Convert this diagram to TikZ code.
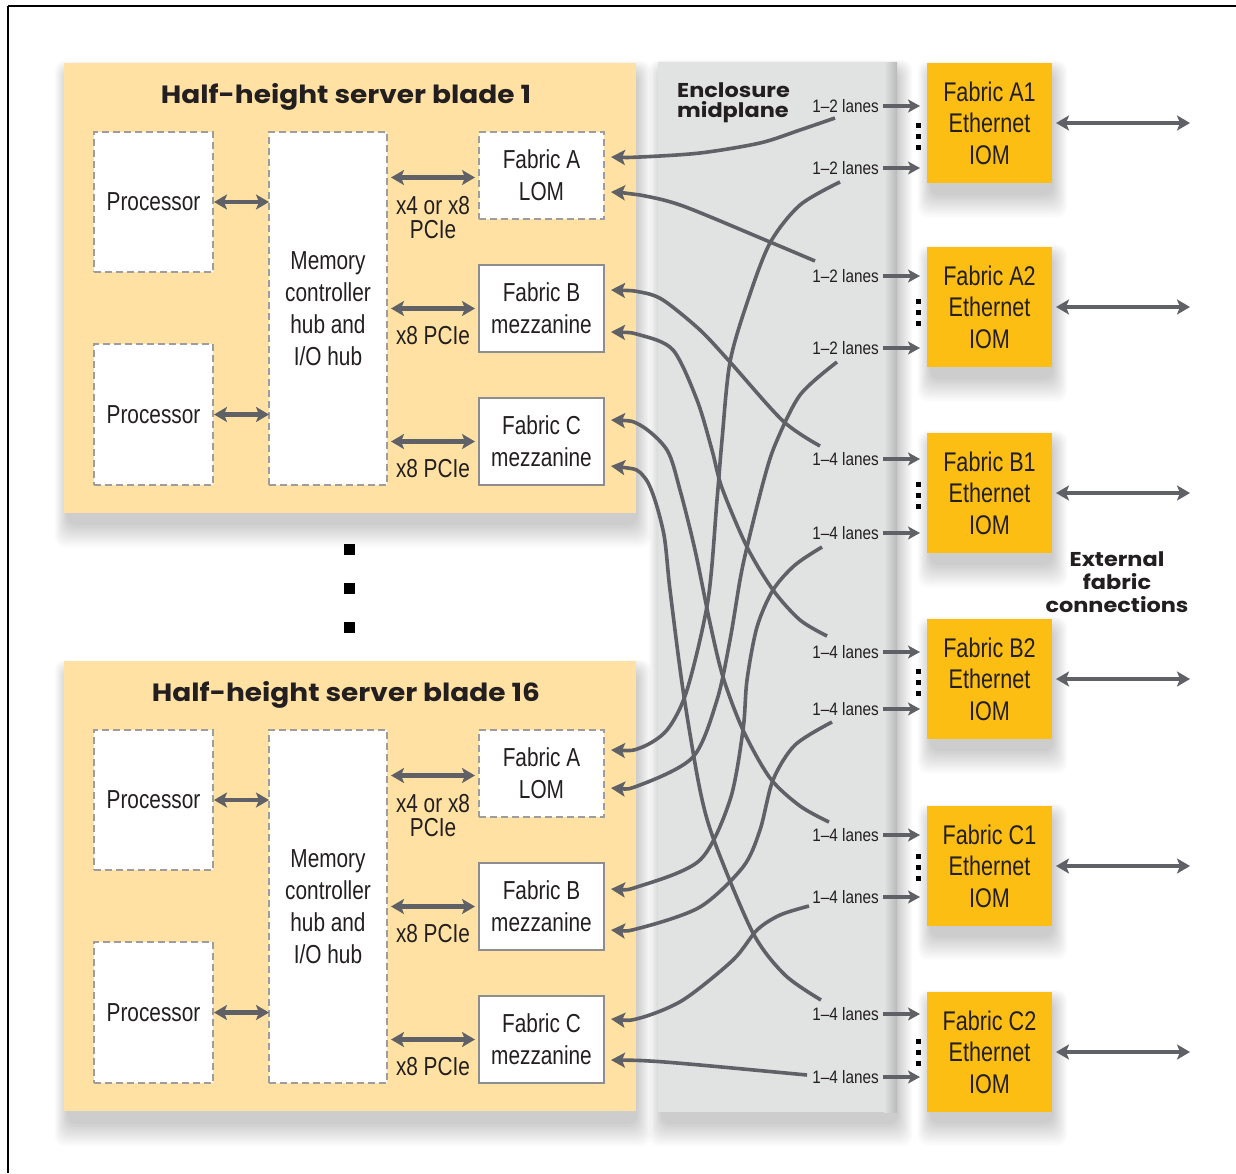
\documentclass[tikz,border=0pt]{standalone}
\usepackage{fontspec}
\setmainfont{Liberation Sans}
\newfontfamily\cond[FakeStretch=0.80]{Liberation Sans}
\newfontfamily\lanef[FakeStretch=0.85]{Liberation Sans}
\newfontfamily\headf[FakeStretch=1.12]{Poppins}
\usetikzlibrary{arrows.meta,calc}
\definecolor{bladec}{HTML}{FFE2A3}
\definecolor{midc}{HTML}{E1E2E2}
\definecolor{iomc}{HTML}{FDBE14}
\definecolor{arrc}{HTML}{5F6167}
\definecolor{dashc}{HTML}{9D9D9D}
\definecolor{txtc}{HTML}{231F20}
\tikzset{
  bladebox/.style={fill=bladec, draw=none, inner sep=0, outer sep=0, anchor=north west},
  dbox/.style={fill=white, draw=dashc, dash pattern=on 7pt off 4pt, line width=1.6pt, inner sep=0, outer sep=0, anchor=north west, font=\cond\fontsize{26}{32}\selectfont, text=txtc, align=center},
  sbox/.style={dbox, solid, draw=dashc!90!black},
  iom/.style={fill=iomc, inner sep=0, outer sep=0, anchor=north west, minimum width=125, minimum height=120, font=\cond\fontsize{27}{31.5}\selectfont, align=center, text=txtc},
  btitle/.style={font=\headf\bfseries\fontsize{25}{25}\selectfont, text=txtc, inner sep=0},
  pcie/.style={font=\cond\fontsize{26}{24}\selectfont, align=center, text=txtc, inner sep=0},
  lane/.style={font=\lanef\fontsize{18}{18}\selectfont, text=txtc, inner sep=1pt, anchor=east},
  dbl/.style={draw=arrc, line width=4.5pt, {Stealth[length=13pt,width=15pt,inset=3pt]}-{Stealth[length=13pt,width=15pt,inset=3pt]}},
  carr/.style={draw=arrc, line width=3.6pt, {Stealth[length=14pt,width=15pt,inset=3pt]}-},
  sarr/.style={draw=arrc, line width=3.3pt, -{Stealth[length=12pt,width=13pt,inset=3pt]}, shorten >=7pt, shorten <=3pt},
}
\newcommand{\softshadow}[4]{%
  \foreach \k in {1,...,10}{%
    \fill[black, opacity=0.02, rounded corners=10pt] ({#1+4-\k*1.3},{#2+10-\k*1.2}) rectangle ({#3+\k*1.5},{#4+10+\k*2.4});
  }%
}
\newcommand{\bladebody}[2]{%
  \node[bladebox, minimum width=572, minimum height=450] (bl#1) at (64,63) {};
  \node[btitle] (ti#1) at (346,97) {Half-height server blade #2};
  \node[dbox, minimum width=119, minimum height=140] (pa#1) at (94,132) {Processor};
  \node[dbox, minimum width=119, minimum height=141] (pb#1) at (94,344) {Processor};
  \node[dbox, minimum width=118, minimum height=353] (mc#1) at (269,132) {Memory\\controller\\hub and\\I/O hub};
  \node[dbox, minimum width=125, minimum height=87] (fa#1) at (479,132) {Fabric A\\LOM};
  \node[sbox, minimum width=125, minimum height=87] (fb#1) at (479,265) {Fabric B\\mezzanine};
  \node[sbox, minimum width=125, minimum height=87] (fc#1) at (479,398) {Fabric C\\mezzanine};
  \draw[dbl, shorten <=1pt] (pa#1.east) -- (pa#1.east -| mc#1.west);
  \draw[dbl, shorten <=1pt] (pb#1.east) -- (pb#1.east -| mc#1.west);
  \draw[dbl, shorten <=4pt, shorten >=4pt] ([yshift=-2pt]fa#1.west -| mc#1.east) -- ([yshift=-2pt]fa#1.west);
  \draw[dbl, shorten <=4pt, shorten >=4pt] (fb#1.west -| mc#1.east) -- (fb#1.west);
  \draw[dbl, shorten <=4pt, shorten >=4pt] (fc#1.west -| mc#1.east) -- (fc#1.west);
  \node[pcie] (xa#1) at (433,218) {x4 or x8\\PCIe};
  \node[pcie] (xb#1) at (433,336) {x8 PCIe};
  \node[pcie] (xc#1) at (433,469) {x8 PCIe};
}
\begin{document}
\begin{tikzpicture}[x=1pt,y=-1pt]
\useasboundingbox (0,0) rectangle (1236,1173);
\fill[white] (0,0) rectangle (1236,1173);
% frame
\draw[line width=2.6pt] (8,6) -- (1236,6);
\draw[line width=1.5pt] (8,6) -- (8,1173);
% shadows
\softshadow{64}{63}{636}{513}
\softshadow{64}{662}{636}{1112}
\softshadow{658}{62}{897}{1112}
\softshadow{927}{63}{1052}{183}
\softshadow{927}{247}{1052}{367}
\softshadow{927}{433}{1052}{553}
\softshadow{927}{619}{1052}{739}
\softshadow{927}{806}{1052}{925}
\softshadow{927}{992}{1052}{1111}
% midplane
\node[fill=midc, anchor=north west, minimum width=239, minimum height=1050, inner sep=0, outer sep=0] (mid) at (658,62) {};
\shade[left color=midc, right color=midc!82!black] (884,62) rectangle (897,1112);
\node[font=\headf\bfseries\fontsize{20}{20}\selectfont, align=left, anchor=west, text=txtc, inner sep=0] (encl) at (677,103) {Enclosure\\midplane};
% blades
\bladebody{1}{1}
\begin{scope}[yshift=-598pt]
\bladebody{16}{16}
\end{scope}
% dots between blades
\foreach \yy in {549,588,627}{\fill[black] (343.5,\yy-5.5) rectangle +(11,11);}
% IOMs
\node[iom] (a1) at (927,63) {Fabric A1\\Ethernet\\IOM};
\node[iom] (a2) at (927,247) {Fabric A2\\Ethernet\\IOM};
\node[iom] (b1) at (927,433) {Fabric B1\\Ethernet\\IOM};
\node[iom] (b2) at (927,619) {Fabric B2\\Ethernet\\IOM};
\node[iom] (c1) at (927,806) {Fabric C1\\Ethernet\\IOM};
\node[iom] (c2) at (927,992) {Fabric C2\\Ethernet\\IOM};
% external arrows
\coordinate (extx) at (1190,0);
\foreach \n in {a1,a2,b1,b2,c1,c2}{\draw[dbl, line width=4pt, shorten <=4pt] (\n.east) -- (\n.east -| extx);}
\node[font=\headf\bfseries\fontsize{20}{23}\selectfont, align=center, text=txtc, inner sep=0] (extl) at (1117,582) {External\\fabric\\connections};
% lane labels
\node[lane] (la1t) at (880,106) {1–2 lanes};
\node[lane] (la1b) at (880,168) {1–2 lanes};
\node[lane] (la2t) at (880,276) {1–2 lanes};
\node[lane] (la2b) at (880,348) {1–2 lanes};
\node[lane] (lb1t) at (880,459) {1–4 lanes};
\node[lane] (lb1b) at (880,533) {1–4 lanes};
\node[lane] (lb2t) at (880,652) {1–4 lanes};
\node[lane] (lb2b) at (880,709) {1–4 lanes};
\node[lane] (lc1t) at (880,835) {1–4 lanes};
\node[lane] (lc1b) at (880,897) {1–4 lanes};
\node[lane] (lc2t) at (880,1014) {1–4 lanes};
\node[lane] (lc2b) at (880,1077) {1–4 lanes};
\foreach \l/\n in {la1t/a1,la1b/a1,la2t/a2,la2b/a2,lb1t/b1,lb1b/b1,lb2t/b2,lb2b/b2,lc1t/c1,lc1b/c1,lc2t/c2,lc2b/c2}{
  \draw[sarr] (\l.east) -- (\l.east -| \n.west);
}
% vertical dots at IOMs
\foreach \yy in {136,312,495,682,867,1052}{
  \foreach \d in {-11,0,11}{\fill[black] (915.5,\yy+\d-2.5) rectangle +(5,5);}
}
% curve end coordinates
\coordinate (e1) at (835,118);
\coordinate (e2) at (815,261);
\coordinate (e3) at (820,446);
\coordinate (e4) at (827,636);
\coordinate (e5) at (829,822);
\coordinate (e6) at (821,1000);
\coordinate (e7) at (840,182);
\coordinate (e8) at (837,362);
\coordinate (e9) at (822,547);
\coordinate (e10) at (832,722);
\coordinate (e11) at (809,906);
\coordinate (e12) at (807,1075);
% curves
\draw[carr] plot[smooth] coordinates {(611,157) (640,157) (700,153) (760,143) (800,130) (e1)};
\draw[carr] plot[smooth] coordinates {(611,192) (640,195) (683,206) (770,242) (e2)};
\draw[carr] plot[smooth] coordinates {(611,290) (640,292) (663,300) (700,330) (730,362) (783,421) (e3)};
\draw[carr] plot[smooth] coordinates {(611,332) (640,335) (673,350) (697,400) (712,450) (722,488) (747,547) (773,590) (800,620) (e4)};
\draw[carr] plot[smooth] coordinates {(611,420) (640,425) (667,450) (680,490) (695,550) (710,623) (723,677) (743,730) (770,778) (800,806) (e5)};
\draw[carr] plot[smooth] coordinates {(611,466) (645,478) (663,530) (670,590) (683,690) (700,790) (715,843) (753,933) (785,975) (e6)};
\draw[carr] plot[smooth] coordinates {(611,750) (640,748) (667,730) (687,690) (708,600) (717,500) (722,440) (730,362) (748,300) (770,243) (800,205) (e7)};
\draw[carr] plot[smooth] coordinates {(611,788) (640,785) (693,757) (717,700) (730,640) (740,580) (747,547) (763,483) (775,445) (800,395) (e8)};
\draw[carr] plot[smooth] coordinates {(611,889) (640,886) (700,860) (730,800) (743,730) (747,680) (757,627) (773,590) (795,565) (e9)};
\draw[carr] plot[smooth] coordinates {(611,930) (640,928) (700,907) (743,867) (760,830) (773,780) (795,745) (e10)};
\draw[carr] plot[smooth] coordinates {(611,1019) (640,1018) (683,1000) (733,960) (757,930) (780,915) (e11)};
\draw[carr] plot[smooth] coordinates {(611,1060) (650,1061) (700,1065) (e12)};
\end{tikzpicture}
\end{document}
